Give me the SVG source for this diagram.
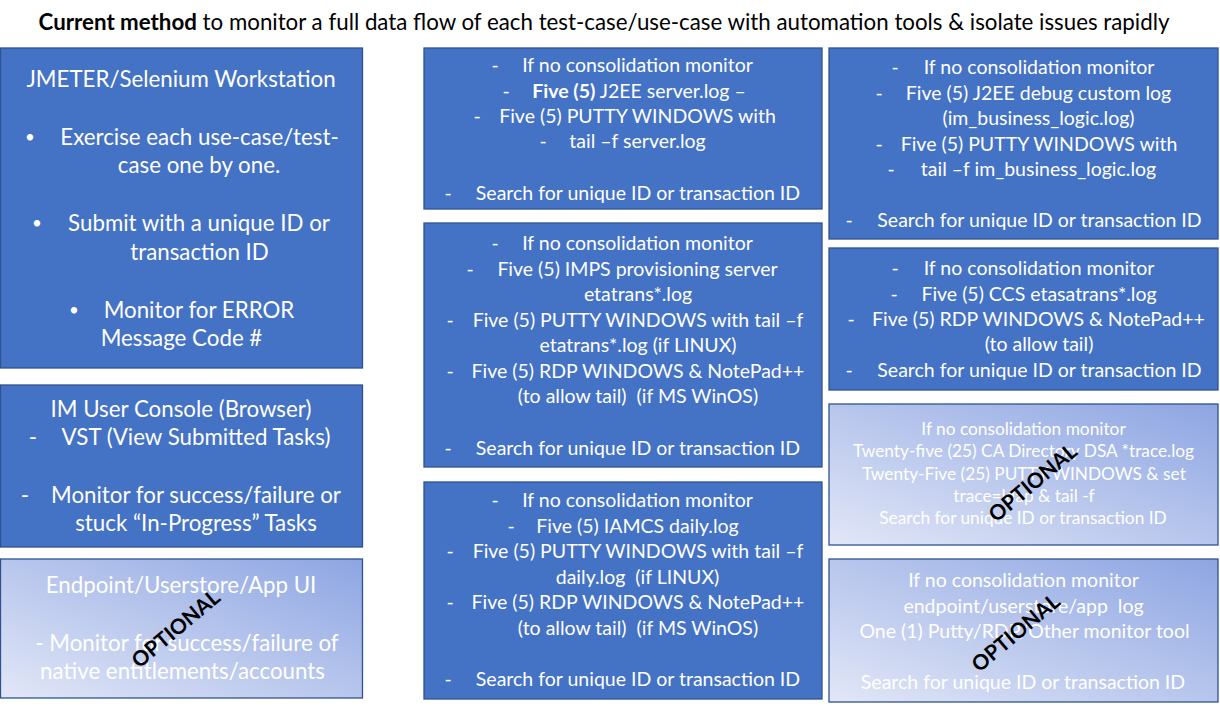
<svg xmlns="http://www.w3.org/2000/svg" width="1220" height="708" viewBox="0 0 1220 708">
<defs>
<linearGradient id="optGrad" x1="0" y1="1" x2="1" y2="0">
<stop offset="0" stop-color="#E2E7F7"/>
<stop offset="1" stop-color="#8DA5E2"/>
</linearGradient>
<style>
.box{fill:#4472C4;stroke:#2F528F;stroke-width:1.3}
.opt{fill:url(#optGrad);stroke:#2F528F;stroke-width:1.3}
text{font-family:Lato,"Open Sans","Liberation Sans",sans-serif}
.t{fill:#fff}
.m{font-size:19.5px}
.s{font-size:17.3px}
.l{font-size:22.3px}
.b{font-size:17px}
.c{text-anchor:middle}
.wm{font-weight:bold;font-size:21px;fill:#000;text-anchor:middle}
.title{font-size:22.3px;fill:#000;text-anchor:middle}
</style>
</defs>
<rect width="1220" height="708" fill="#fff"/>
<text class="title" x="604" y="30"><tspan font-weight="bold">Current method</tspan> to monitor a full data flow of each test-case/use-case with automation tools &amp; isolate issues rapidly</text>

<g id="jmeter">
<rect class="box" x="0.5" y="48" width="362" height="320"/>
<text class="t l c" x="181" y="87">JMETER/Selenium Workstation</text>
<text class="t b c" x="30" y="143">•</text>
<text class="t l c" x="199.5" y="145">Exercise each use-case/test-</text>
<text class="t l c" x="199" y="173">case one by one.</text>
<text class="t b c" x="37" y="229">•</text>
<text class="t l c" x="199" y="231">Submit with a unique ID or</text>
<text class="t l c" x="199.5" y="260">transaction ID</text>
<text class="t b c" x="74" y="316">•</text>
<text class="t l c" x="199" y="318">Monitor for ERROR</text>
<text class="t l c" x="181.5" y="346">Message Code #</text>
</g>

<g id="im-console">
<rect class="box" x="0.5" y="385" width="362" height="162"/>
<text class="t l c" x="181" y="417">IM User Console (Browser)</text>
<text class="t l c" x="33" y="445">-</text>
<text class="t l c" x="196" y="445">VST (View Submitted Tasks)</text>
<text class="t l c" x="25" y="503">-</text>
<text class="t l c" x="196" y="503">Monitor for success/failure or</text>
<text class="t l c" x="196" y="531">stuck “In-Progress” Tasks</text>
</g>

<g id="endpoint-ui">
<rect class="opt" x="0.5" y="559" width="362" height="139"/>
<text class="t l c" x="181" y="593">Endpoint/Userstore/App UI</text>
<text class="t l c" x="187" y="651">- Monitor for success/failure of</text>
<text class="t l c" x="182.5" y="679">native entitlements/accounts</text>
<text class="wm" transform="translate(176,629) rotate(-40)" y="7">OPTIONAL</text>
</g>

<g id="j2ee-server">
<rect class="box" x="424" y="48" width="398" height="161"/>
<text class="t m c" x="495" y="72">-</text>
<text class="t m c" x="637.5" y="72">If no consolidation monitor</text>
<text class="t m c" x="506" y="98">-</text>
<text class="t m c" x="639" y="98"><tspan font-weight="bold">Five (5)</tspan> J2EE server.log –</text>
<text class="t m c" x="477" y="123">-</text>
<text class="t m c" x="637.5" y="123">Five (5) PUTTY WINDOWS with</text>
<text class="t m c" x="543" y="148">-</text>
<text class="t m c" x="637.5" y="148">tail –f server.log</text>
<text class="t m c" x="448" y="200">-</text>
<text class="t m c" x="638" y="200">Search for unique ID or transaction ID</text>
</g>

<g id="imps">
<rect class="box" x="424" y="223" width="398" height="244"/>
<text class="t m c" x="495" y="250">-</text>
<text class="t m c" x="637.5" y="250">If no consolidation monitor</text>
<text class="t m c" x="470" y="276">-</text>
<text class="t m c" x="637.5" y="276">Five (5) IMPS provisioning server</text>
<text class="t m c" x="638" y="301">etatrans*.log</text>
<text class="t m c" x="450" y="327">-</text>
<text class="t m c" x="638" y="327">Five (5) PUTTY WINDOWS with tail –f</text>
<text class="t m c" x="638" y="352">etatrans*.log (if LINUX)</text>
<text class="t m c" x="450" y="378">-</text>
<text class="t m c" x="638" y="378">Five (5) RDP WINDOWS &amp; NotePad++</text>
<text class="t m c" x="638" y="403" xml:space="preserve">(to allow tail)  (if MS WinOS)</text>
<text class="t m c" x="448" y="455">-</text>
<text class="t m c" x="638" y="455">Search for unique ID or transaction ID</text>
</g>

<g id="iamcs">
<rect class="box" x="424" y="482" width="398" height="217"/>
<text class="t m c" x="495" y="507">-</text>
<text class="t m c" x="637.5" y="507">If no consolidation monitor</text>
<text class="t m c" x="511" y="532.5">-</text>
<text class="t m c" x="637.5" y="532.5">Five (5) IAMCS daily.log</text>
<text class="t m c" x="450" y="558">-</text>
<text class="t m c" x="638" y="558">Five (5) PUTTY WINDOWS with tail –f</text>
<text class="t m c" x="637.5" y="583.5" xml:space="preserve">daily.log  (if LINUX)</text>
<text class="t m c" x="450" y="609">-</text>
<text class="t m c" x="638" y="609">Five (5) RDP WINDOWS &amp; NotePad++</text>
<text class="t m c" x="638" y="634.5" xml:space="preserve">(to allow tail)  (if MS WinOS)</text>
<text class="t m c" x="448" y="685.5">-</text>
<text class="t m c" x="638" y="685.5">Search for unique ID or transaction ID</text>
</g>

<g id="j2ee-debug">
<rect class="box" x="829" y="48" width="389" height="191"/>
<text class="t m c" x="895" y="74">-</text>
<text class="t m c" x="1039" y="74">If no consolidation monitor</text>
<text class="t m c" x="879" y="99.5">-</text>
<text class="t m c" x="1038.5" y="99.5">Five (5) J2EE debug custom log</text>
<text class="t m c" x="1038.5" y="125">(im_business_logic.log)</text>
<text class="t m c" x="879" y="150.5">-</text>
<text class="t m c" x="1039" y="150.5">Five (5) PUTTY WINDOWS with</text>
<text class="t m c" x="891" y="176">-</text>
<text class="t m c" x="1038.5" y="176">tail –f im_business_logic.log</text>
<text class="t m c" x="849" y="227">-</text>
<text class="t m c" x="1039.5" y="227">Search for unique ID or transaction ID</text>
</g>

<g id="ccs">
<rect class="box" x="829" y="248" width="389" height="142"/>
<text class="t m c" x="895" y="275">-</text>
<text class="t m c" x="1039" y="275">If no consolidation monitor</text>
<text class="t m c" x="894" y="300.5">-</text>
<text class="t m c" x="1039" y="300.5">Five (5) CCS etasatrans*.log</text>
<text class="t m c" x="851" y="326">-</text>
<text class="t m c" x="1038.5" y="326">Five (5) RDP WINDOWS &amp; NotePad++</text>
<text class="t m c" x="1039" y="351">(to allow tail)</text>
<text class="t m c" x="849" y="377">-</text>
<text class="t m c" x="1039.5" y="377">Search for unique ID or transaction ID</text>
</g>

<g id="ca-directory">
<rect class="opt" x="829" y="404" width="389" height="141"/>
<text class="t s c" x="1023.5" y="435">If no consolidation monitor</text>
<text class="t s c" x="1023.5" y="457">Twenty-five (25) CA Directory DSA *trace.log</text>
<text class="t s c" x="1024" y="480">Twenty-Five (25) PUTTY WINDOWS &amp; set</text>
<text class="t s c" x="1024" y="502">trace=ldap &amp; tail -f</text>
<text class="t s c" x="1023" y="524">Search for unique ID or transaction ID</text>
<text class="wm" transform="translate(1033,483) rotate(-40)" y="7">OPTIONAL</text>
</g>

<g id="endpoint-log">
<rect class="opt" x="829" y="559" width="389" height="143"/>
<text class="t m c" x="1023.5" y="587">If no consolidation monitor</text>
<text class="t m c" x="1023.5" y="612.5" xml:space="preserve">endpoint/userstore/app  log</text>
<text class="t m c" x="1024.5" y="638">One (1) Putty/RDP/Other monitor tool</text>
<text class="t m c" x="1023" y="689">Search for unique ID or transaction ID</text>
<text class="wm" transform="translate(1016,633) rotate(-40)" y="7">OPTIONAL</text>
</g>

<g id="connectors"/>
</svg>
